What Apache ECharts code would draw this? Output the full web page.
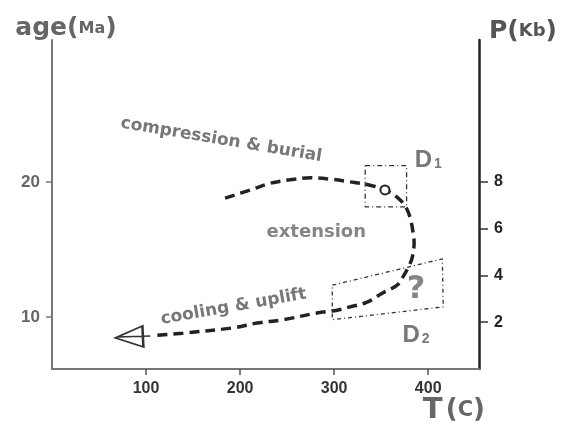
<!DOCTYPE html>
<html><head><meta charset="utf-8">
<script src="https://cdn.jsdelivr.net/npm/echarts@6.0.0/dist/echarts.min.js"></script>
<style>html,body{margin:0;padding:0;background:#fff}#c{width:563px;height:422px}</style>
</head><body><div id="c"></div>
<script>
// P-T-t path (temperature in C, age in Ma)
const pathT   = [184, 211, 232, 253, 275, 296, 317, 335, 354, 368, 376, 381, 384, 385, 383, 379, 373, 367, 352, 335, 317, 303, 282, 246, 218, 193, 139, 112];
const pathAge = [18.8, 19.4, 19.9, 20.15, 20.3, 20.2, 20.0, 19.8, 19.4, 18.8, 18.15, 17.3, 16.2, 15.5, 14.4, 13.7, 12.95, 12.35, 11.8, 11.1, 10.75, 10.5, 10.3, 9.8, 9.55, 9.2, 8.8, 8.65];
// arrow head at the end of the path
const arrowT = [86];
const arrowAge = [8.56];
// D1 sample point
const circT = [354];
const circAge = [19.4];
// D1 box and D2 field
const d1T   = [333, 377, 377, 333, 333];
const d1Age = [21.2, 21.2, 18.15, 18.15, 21.2];
const d2T   = [298, 415, 416, 298, 298];
const d2Age = [12.35, 14.3, 10.75, 9.8, 12.35];
// annotations
const annoText = ['compression & burial', 'extension', 'cooling & uplift', '?', 'D1', 'D2'];
const annoT    = [180, 281, 193, 387, 400, 387];
const annoAge  = [23.1, 16.3, 10.75, 12.0, 21.7, 8.74];
const annoRot  = [-9.5, 0, 10, 0, 0, 0];
// axes
const tTicks = [100, 200, 300, 400];
const ageTicks = [10, 20];
const pTicks = [2, 4, 6, 8];

const W = 'DejaVu Sans';
const N = 'Liberation Sans';

function annoFormatter(p) {
  const s = annoText[p.dataIndex];
  if (s === 'D1' || s === 'D2') return '{d|D}{s|' + s.slice(1) + '}';
  if (s === '?') return '{q|?}';
  if (p.dataIndex === 1) return '{e|' + s + '}';
  return '{w|' + s + '}';
}

const chart = echarts.init(document.getElementById('c'), null, {renderer: 'canvas'});
const option = {
  animation: false,
  backgroundColor: '#fff',
  grid: {left: 52, right: 84, top: 40, bottom: 53, containLabel: false, outerBoundsMode: 'none'},
  xAxis: {
    type: 'value', min: 0, max: 454,
    name: '{t|T} {p|(}{c|C}{p|)}',
    nameLocation: 'end', nameGap: 6, nameMoveOverlap: false,
    nameTextStyle: {align: 'right', verticalAlign: 'top', padding: [27, 0, 0, 0],
      rich: {
        t: {fontFamily: W, fontWeight: 'bold', fontSize: 29, color: '#666'},
        p: {fontFamily: W, fontWeight: 'bold', fontSize: 26, color: '#666'},
        c: {fontFamily: W, fontWeight: 'bold', fontSize: 21, color: '#666'}
      }},
    axisLine: {show: true, onZero: false, lineStyle: {color: '#777', width: 2}},
    axisTick: {show: true, customValues: tTicks, length: 6, lineStyle: {color: '#555', width: 1.5}},
    axisLabel: {customValues: tTicks, margin: 12, color: '#333', fontSize: 16, fontWeight: 'bold', fontFamily: N},
    splitLine: {show: false}
  },
  yAxis: [
    {
      type: 'value', position: 'left', min: 6.15, max: 30.5,
      name: '{a|age}{p|(}{m|Ma}{p|)}',
      nameLocation: 'end', nameGap: -1, nameMoveOverlap: false,
      nameTextStyle: {align: 'center', padding: [0, 0, 0, 28],
        rich: {
          a: {fontFamily: W, fontWeight: 'bold', fontSize: 25, color: '#666'},
          p: {fontFamily: W, fontWeight: 'bold', fontSize: 25, color: '#666'},
          m: {fontFamily: W, fontWeight: 'bold', fontSize: 16, color: '#666'}
        }},
      axisLine: {show: true, onZero: false, lineStyle: {color: '#777', width: 2}},
      axisTick: {show: true, customValues: ageTicks, length: 6, lineStyle: {color: '#777', width: 1.5}},
      axisLabel: {customValues: ageTicks, margin: 12, color: '#666', fontSize: 17, fontWeight: 'bold', fontFamily: N},
      splitLine: {show: false}
    },
    {
      type: 'value', position: 'right', min: 0, max: 14.07,
      name: '{a|P}{p|(}{m|Kb}{p|)}',
      nameLocation: 'end', nameGap: -4, nameMoveOverlap: false,
      nameTextStyle: {align: 'center', padding: [0, 0, 0, 88],
        rich: {
          a: {fontFamily: W, fontWeight: 'bold', fontSize: 25, color: '#555'},
          p: {fontFamily: W, fontWeight: 'bold', fontSize: 25, color: '#555'},
          m: {fontFamily: W, fontWeight: 'bold', fontSize: 18, color: '#555'}
        }},
      axisLine: {show: true, onZero: false, lineStyle: {color: '#222', width: 2.5}},
      axisTick: {show: true, customValues: pTicks, length: 9, lineStyle: {color: '#333', width: 1.5}},
      axisLabel: {customValues: pTicks, margin: 15, color: '#222', fontSize: 16, fontWeight: 'bold', fontFamily: N},
      splitLine: {show: false}
    }
  ],
  series: [
    {
      name: 'path', type: 'line', silent: true, z: 3,
      data: pathT.map((t, i) => [t, pathAge[i]]),
      smooth: 0.35, showSymbol: false,
      lineStyle: {color: '#222', width: 3.5, type: [10, 6], cap: 'butt'}
    },
    {
      name: 'D1 box', type: 'line', silent: true, z: 2,
      data: d1T.map((t, i) => [t, d1Age[i]]),
      showSymbol: false,
      lineStyle: {color: '#333', width: 1.3, type: [5, 3, 1, 3]}
    },
    {
      name: 'D2 field', type: 'line', silent: true, z: 2,
      data: d2T.map((t, i) => [t, d2Age[i]]),
      showSymbol: false,
      lineStyle: {color: '#333', width: 1.3, type: [4, 3, 1, 3]}
    },
    {
      name: 'sample', type: 'scatter', silent: true, z: 5,
      data: circT.map((t, i) => [t, circAge[i]]),
      symbol: 'circle', symbolSize: 9,
      itemStyle: {color: '#fff', opacity: 1, borderColor: '#222', borderWidth: 2}
    },
    {
      name: 'arrow', type: 'scatter', silent: true, z: 5,
      data: arrowT.map((t, i) => [t, arrowAge[i]]),
      symbol: 'path://M0,12 L27,0 L28,21 Z M2,11 L35,10', symbolSize: [35, 21],
      itemStyle: {color: 'rgba(0,0,0,0)', opacity: 1, borderColor: '#333', borderWidth: 2}
    },
    {
      name: 'labels', type: 'scatter', silent: true, z: 6,
      data: annoT.map((t, i) => ({value: [t, annoAge[i]], label: {rotate: annoRot[i]}})),
      symbolSize: 1, itemStyle: {color: 'rgba(0,0,0,0)'},
      label: {
        show: true, position: 'inside', formatter: annoFormatter,
        rich: {
          w: {fontFamily: W, fontWeight: 'bold', fontSize: 17, color: '#555'},
          e: {fontFamily: W, fontWeight: 'bold', fontSize: 18, color: '#666'},
          q: {fontFamily: W, fontWeight: 'bold', fontSize: 32, color: '#666'},
          d: {fontFamily: N, fontWeight: 'bold', fontSize: 24, color: '#555', lineHeight: 26, verticalAlign: 'bottom'},
          s: {fontFamily: N, fontWeight: 'bold', fontSize: 14, color: '#555', lineHeight: 26, verticalAlign: 'bottom', padding: [0, 0, 1, 2]}
        }
      }
    }
  ]
};
chart.setOption(option);
</script>
</body></html>
